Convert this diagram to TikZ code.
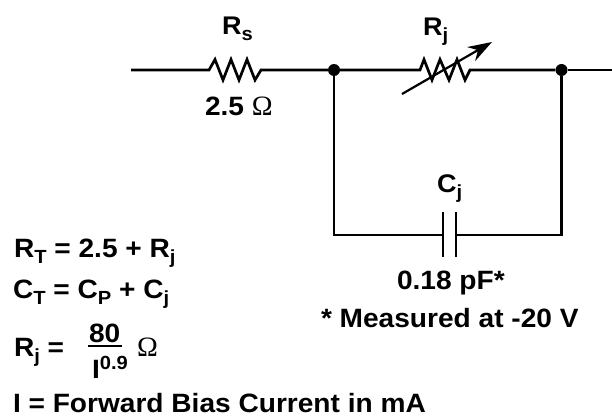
\documentclass[tikz,border=0pt]{standalone}
\usepackage{fontspec}
\setmainfont{Liberation Sans}[BoldFont=* Bold,FakeStretch=1.06]
\newfontfamily\omegafont{Liberation Serif}
\newcommand{\sbs}[1]{\raisebox{-6pt}{\fontsize{19}{19}\selectfont #1}}
\newcommand{\sps}[1]{\raisebox{9pt}{\fontsize{19}{19}\selectfont #1}}
\newcommand{\ohm}{{\omegafont\fontseries{m}\fontsize{28}{28}\selectfont Ω}}
\tikzset{
  wire/.style={line width=2.7pt,line join=miter},
  lbl/.style={anchor=base west,inner sep=0pt,outer sep=0pt,font=\fontsize{26.5}{26.5}\selectfont\bfseries},
  lbs/.style={lbl,font=\fontsize{25.5}{25.5}\selectfont\bfseries},
  dotnode/.style={circle,fill=black,minimum size=12pt,inner sep=0pt},
  varrow/.style={line width=2.2pt,-{Stealth[length=24pt,width=16pt]}}
}
\usetikzlibrary{arrows.meta}
\begin{document}
\begin{tikzpicture}[x=1pt,y=-1pt]
\useasboundingbox (0,0) rectangle (612,417);
% end points and junctions
\coordinate (in) at (131,70);
\coordinate (out) at (612,70);
\node[dotnode] (j1) at (334,70) {};
\node[dotnode] (j2) at (561.5,70) {};
\coordinate (bl) at (334,235);
\coordinate (br) at (561.5,235);
\coordinate (c1) at (443,235);
\coordinate (c2) at (456,235);
% wires
\coordinate (rs1) at (209,70);
\coordinate (rs2) at (261,70);
\coordinate (rj1) at (420,70);
\coordinate (rj2) at (470,70);
\draw[wire] (in) -- (rs1) -- (215,59.5) -- (223,80) -- (231,59.5) -- (239,80) -- (247,59.5) -- (255,80) -- (rs2) -- (j1);
\draw[wire] (j1) -- (rj1) -- (424,59.5) -- (432,80) -- (440,59.5) -- (449,80) -- (457,59.5) -- (465,80) -- (rj2) -- (j2);
\draw[wire] (j2) -- (out);
\draw[wire] (j1) -- (bl) -- (c1);
\draw[wire] (j2) -- (br) -- (c2);
\draw[wire] (443,212) -- (443,257);
\draw[wire] (456,212) -- (456,257);
\coordinate (a1) at (402,94);
\coordinate (a2) at (492,42);
\draw[varrow] (a1) -- (a2);
% labels
\node[lbs] (trs) at (222,35) {R\sbs{s}};
\node[lbl] (trv) at (205,115) {2.5 \ohm};
\node[lbs] (trj) at (423,36) {R\sbs{j}};
\node[lbs] (tcj) at (437,192) {C\sbs{j}};
\node[lbl] (tcv) at (397,289) {0.18 pF*};
\node[lbl] (tm) at (321,327) {* Measured at -20 V};
\node[lbl] (e1) at (14,257) {R\sbs{T} = 2.5 + R\sbs{j}};
\node[lbl] (e2) at (13,298) {C\sbs{T} = C\sbs{P} + C\sbs{j}};
\node[lbl] (e3) at (14,356) {R\sbs{j} =};
\node[lbl] (num) at (89,342) {80};
\node[lbl] (den) at (92,378) {I\sps{0.9}};
\node[lbl] (eo) at (137,356) {\ohm};
\draw[line width=2.4pt] (88,346) -- (122,346);
\node[lbl] (e4) at (13,412.5) {I = Forward Bias Current in mA};
\end{tikzpicture}
\end{document}
